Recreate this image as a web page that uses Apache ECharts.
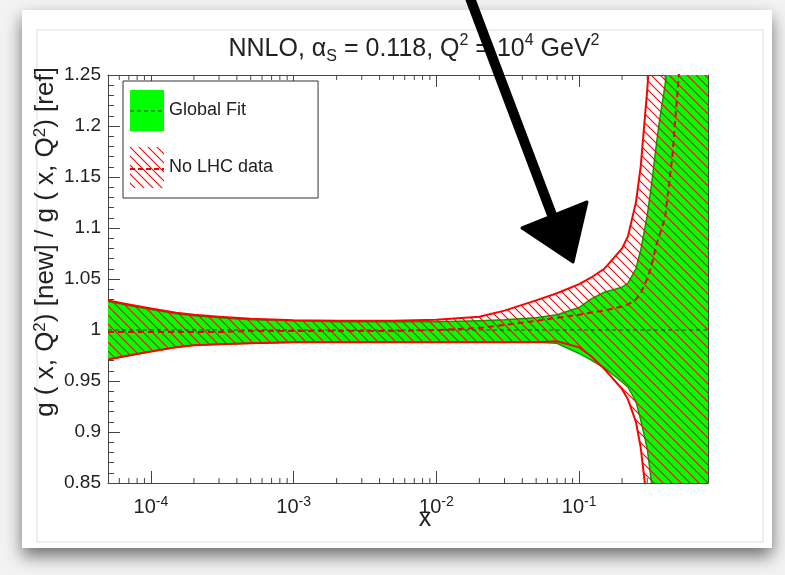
<!DOCTYPE html>
<html><head><meta charset="utf-8">
<script src="https://cdn.jsdelivr.net/npm/echarts@6/dist/echarts.min.js"></script>
<style>html,body{margin:0;padding:0;background:#fff}#c{width:785px;height:575px}</style>
</head><body><div id="c"></div>
<script>
// ---- data ----
const xVals = [5e-5, 7e-5, 1e-4, 1.5e-4, 2e-4, 3e-4, 5e-4, 1e-3, 2e-3, 5e-3, 1e-2, 2e-2, 3e-2, 5e-2, 7e-2, 0.1, 0.12, 0.15, 0.2, 0.22, 0.25, 0.27, 0.3, 0.32, 0.35, 0.37, 0.4, 0.45, 0.5, 0.6, 0.8];
const globalHi = [1.028, 1.024, 1.020, 1.016, 1.014, 1.012, 1.010, 1.009, 1.008, 1.008, 1.008, 1.009, 1.010, 1.012, 1.015, 1.022, 1.030, 1.037, 1.042, 1.046, 1.060, 1.078, 1.112, 1.140, 1.185, 1.210, 1.240, 1.300, 1.360, 1.480, 1.800];
const globalLo = [0.971, 0.975, 0.979, 0.983, 0.985, 0.986, 0.987, 0.988, 0.988, 0.988, 0.988, 0.988, 0.988, 0.988, 0.987, 0.977, 0.971, 0.963, 0.949, 0.944, 0.930, 0.912, 0.884, 0.853, 0.800, 0.770, 0.720, 0.650, 0.600, 0.500, 0.300];
const globalCentral = [1, 1, 1, 1, 1, 1, 1, 1, 1, 1, 1, 1, 1, 1, 1, 1, 1, 1, 1, 1, 1, 1, 1, 1, 1, 1, 1, 1, 1, 1, 1];
const noLhcHi = [1.029, 1.025, 1.021, 1.017, 1.015, 1.013, 1.011, 1.0095, 1.009, 1.009, 1.010, 1.013, 1.019, 1.029, 1.036, 1.045, 1.051, 1.060, 1.080, 1.092, 1.125, 1.160, 1.235, 1.290, 1.380, 1.440, 1.520, 1.650, 1.780, 2.000, 2.400];
const noLhcLo = [0.971, 0.975, 0.979, 0.983, 0.985, 0.986, 0.987, 0.988, 0.988, 0.988, 0.988, 0.988, 0.988, 0.988, 0.989, 0.983, 0.975, 0.962, 0.942, 0.932, 0.910, 0.885, 0.830, 0.780, 0.700, 0.650, 0.580, 0.480, 0.400, 0.300, 0.200];
const noLhcCentral = [0.998, 0.998, 0.998, 0.998, 0.998, 0.998, 0.999, 0.999, 0.999, 0.999, 1.000, 1.002, 1.005, 1.009, 1.012, 1.015, 1.017, 1.019, 1.023, 1.025, 1.030, 1.036, 1.050, 1.062, 1.085, 1.095, 1.110, 1.170, 1.250, 1.420, 1.800];
const xMinorTicks = [6e-5, 7e-5, 8e-5, 9e-5, 2e-4, 3e-4, 4e-4, 5e-4, 6e-4, 7e-4, 8e-4, 9e-4, 2e-3, 3e-3, 4e-3, 5e-3, 6e-3, 7e-3, 8e-3, 9e-3, 2e-2, 3e-2, 4e-2, 5e-2, 6e-2, 7e-2, 8e-2, 9e-2, 0.2, 0.3, 0.4, 0.5, 0.6, 0.7];
const seriesNames = ['Global Fit', 'No LHC data'];
const xRange = [5e-5, 0.8];
const yRange = [0.85, 1.25];

const FONT = '"Liberation Sans", Arial, Helvetica, sans-serif';
const TXT = '#222';

function makeHatch(bg) {
  const s = 9, c = document.createElement('canvas');
  c.width = s; c.height = s;
  const g = c.getContext('2d');
  if (bg) { g.fillStyle = bg; g.fillRect(0, 0, s, s); }
  g.strokeStyle = '#ff0000'; g.lineWidth = 1.1;
  g.beginPath();
  for (const o of [-s, 0, s]) { g.moveTo(o - 1, -1); g.lineTo(o + s + 1, s + 1); }
  g.stroke();
  return c;
}
const hatchClear = { image: makeHatch(null), repeat: 'repeat' };
const hatchWhite = { image: makeHatch('#ffffff'), repeat: 'repeat' };

function bandSeries(name, lo, hi, fill, edge, edgeWidth, z) {
  return {
    type: 'custom', name: name, z: z, clip: true, silent: true,
    xAxisIndex: 0, yAxisIndex: 0,
    data: xVals.map((x, i) => [x, lo[i], hi[i]]),
    encode: { x: 0, y: [1, 2] },
    renderItem: function (params, api) {
      if (params.dataIndexInside !== 0) return null;
      const n = params.dataInsideLength;
      const up = [], dn = [];
      for (let i = 0; i < n; i++) {
        const x = api.value(0, i);
        up.push(api.coord([x, api.value(2, i)]));
        dn.push(api.coord([x, api.value(1, i)]));
      }
      const poly = up.concat(dn.slice().reverse());
      const children = [{ type: 'polygon', shape: { points: poly }, style: { fill: fill, stroke: null } }];
      if (edge) {
        children.push({ type: 'polyline', shape: { points: up }, style: { fill: null, stroke: edge, lineWidth: edgeWidth } });
        children.push({ type: 'polyline', shape: { points: dn }, style: { fill: null, stroke: edge, lineWidth: edgeWidth } });
      }
      return { type: 'group', children: children };
    }
  };
}

const chart = echarts.init(document.getElementById('c'), null, { renderer: 'canvas' });

const tickStyle = { color: '#444', width: 1 };
const option = {
  animation: false,
  backgroundColor: '#f3f3f3',
  textStyle: { fontFamily: FONT },
  title: {
    text: '{t|NNLO, α}{s|S}{t| = 0.118, Q}{p|2}{t| = 10}{p|4}{t| GeV}{p|2}',
    left: 409, top: 28, textAlign: 'center',
    textStyle: {
      fontWeight: 'normal',
      rich: {
        t: { fontSize: 25, lineHeight: 32, fontWeight: 'normal', color: TXT, fontFamily: FONT },
        s: { fontSize: 16, lineHeight: 16, fontWeight: 'normal', verticalAlign: 'bottom', color: TXT, fontFamily: FONT },
        p: { fontSize: 16, lineHeight: 16, fontWeight: 'normal', verticalAlign: 'top', color: TXT, fontFamily: FONT }
      }
    }
  },
  legend: {
    orient: 'vertical', left: 123, top: 81,
    padding: [9, 45, 10, 7], itemGap: 16, itemWidth: 34, itemHeight: 41,
    borderColor: '#333', borderWidth: 1, backgroundColor: '#ffffff',
    selectedMode: false,
    textStyle: { fontSize: 18, color: TXT, fontFamily: FONT },
    data: [
      { name: seriesNames[0], icon: 'rect', itemStyle: { color: '#00ff00' } },
      { name: seriesNames[1], icon: 'rect', itemStyle: { color: hatchWhite } }
    ]
  },
  grid: { left: 108, right: 77, top: 75, bottom: 92 },
  xAxis: [{
    type: 'log', logBase: 10, min: xRange[0], max: xRange[1], position: 'bottom',
    axisLine: { show: true, lineStyle: tickStyle },
    axisTick: { show: true, inside: true, length: 12, lineStyle: tickStyle },
    splitLine: { show: false },
    axisLabel: {
      margin: 12, showMinLabel: false, showMaxLabel: false,
      formatter: function (v) {
        const l = Math.log10(v), e = Math.round(l);
        if (Math.abs(l - e) > 1e-6) return '';
        return '{b|10}{e|' + e + '}';
      },
      rich: {
        b: { fontSize: 20, lineHeight: 24, color: TXT, fontFamily: FONT },
        e: { fontSize: 14, lineHeight: 14, verticalAlign: 'top', color: TXT, fontFamily: FONT }
      }
    }
  }, {
    type: 'log', logBase: 10, min: xRange[0], max: xRange[1], position: 'top',
    axisLine: { show: true, lineStyle: tickStyle },
    axisTick: { show: true, inside: true, length: 12, lineStyle: tickStyle },
    axisLabel: { show: false }, splitLine: { show: false }
  }],
  yAxis: [{
    type: 'value', min: yRange[0], max: yRange[1], interval: 0.05, position: 'left',
    axisLine: { show: true, lineStyle: tickStyle },
    axisTick: { show: true, inside: true, length: 12, lineStyle: tickStyle },
    minorTick: { show: true, splitNumber: 5, length: 6, lineStyle: tickStyle },
    splitLine: { show: false },
    axisLabel: { fontSize: 19, color: TXT, margin: 7, fontFamily: FONT }
  }, {
    type: 'value', min: yRange[0], max: yRange[1], interval: 0.05, position: 'right',
    axisLine: { show: true, lineStyle: tickStyle },
    axisTick: { show: true, inside: true, length: 12, lineStyle: tickStyle },
    minorTick: { show: true, splitNumber: 5, length: 6, lineStyle: tickStyle },
    splitLine: { show: false }, axisLabel: { show: false }
  }],
  series: [
    {
      type: 'custom', name: 'minor ticks', z: 1, silent: true, clip: false,
      data: xMinorTicks.map(v => [v]), encode: { x: 0 },
      renderItem: function (params, api) {
        const x = api.value(0);
        const b = api.coord([x, yRange[0]]), t = api.coord([x, yRange[1]]);
        return { type: 'group', children: [
          { type: 'line', shape: { x1: b[0], y1: b[1], x2: b[0], y2: b[1] - 5 }, style: { stroke: '#444', lineWidth: 1 } },
          { type: 'line', shape: { x1: t[0], y1: t[1], x2: t[0], y2: t[1] + 5 }, style: { stroke: '#444', lineWidth: 1 } }
        ] };
      }
    },
    bandSeries(seriesNames[0], globalLo, globalHi, '#00ff00', '#00a000', 1.5, 2),
    bandSeries(seriesNames[1], noLhcLo, noLhcHi, hatchClear, '#ff0000', 2, 3),
    {
      type: 'line', name: 'Global Fit central', z: 6, symbol: 'none', silent: true,
      data: xVals.map((x, i) => [x, globalCentral[i]]),
      lineStyle: { color: '#333', width: 1, type: [4, 3] }
    },
    {
      type: 'line', name: 'No LHC data central', z: 6, symbol: 'none', silent: true,
      data: xVals.map((x, i) => [x, noLhcCentral[i]]),
      lineStyle: { color: '#ee0000', width: 2, type: [6, 4] }
    }
  ],
  graphic: [
    { type: 'rect', z: -10, shape: { x: 22, y: 10, width: 750, height: 538 },
      style: { fill: '#ffffff', shadowBlur: 16, shadowColor: 'rgba(0,0,0,0.55)', shadowOffsetY: 8 } },
    { type: 'rect', z: -9, shape: { x: 37, y: 30, width: 726, height: 512 },
      style: { fill: null, stroke: '#dddddd', lineWidth: 1 } },
    { type: 'text', z: 50, x: 46, y: 242, rotation: Math.PI / 2,
      style: { text: '{m|g ( x, Q}{p|2}{m|) [new] / g ( x, Q}{p|2}{m|) [ref]}', align: 'center', verticalAlign: 'middle',
        rich: { m: { fontSize: 26, lineHeight: 28, fill: TXT, fontFamily: FONT },
                p: { fontSize: 17, lineHeight: 15, verticalAlign: 'top', fill: TXT, fontFamily: FONT } } } },
    { type: 'text', z: 50, x: 425, y: 519, style: { text: 'x', fontSize: 25, fill: TXT, align: 'center', verticalAlign: 'middle', fontFamily: FONT } },
    { type: 'line', z: 100, shape: { x1: 130, y1: 111, x2: 164, y2: 111 }, style: { stroke: '#333', lineWidth: 1, lineDash: [4, 3] } },
    { type: 'line', z: 100, shape: { x1: 130, y1: 169, x2: 164, y2: 169 }, style: { stroke: '#ee0000', lineWidth: 2, lineDash: [5, 3] } },
    { type: 'polyline', z: 100, shape: { points: [[470, -2], [552, 215]] }, style: { stroke: '#000', lineWidth: 10, lineCap: 'round', lineJoin: 'round' } },
    { type: 'polygon', z: 100, shape: { points: [[522, 228], [587, 202], [573, 262]] }, style: { fill: '#000', stroke: '#000', lineWidth: 3, lineJoin: 'round' } }
  ]
};
chart.setOption(option);
</script>
</body></html>
